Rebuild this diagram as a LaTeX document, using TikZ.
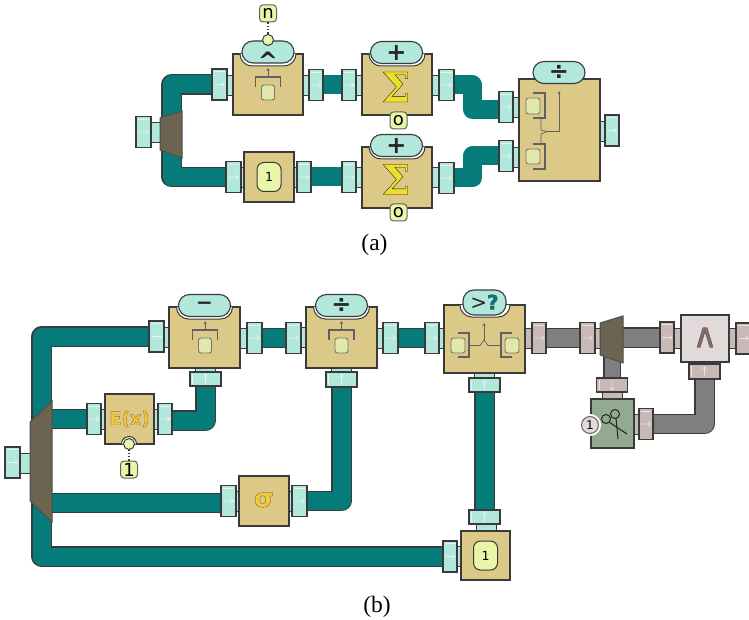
\documentclass[tikz,border=0pt]{standalone}
\usepackage{fontspec}
\setmainfont{DejaVu Sans}
\newfontfamily\capfont{Liberation Serif}
\newfontfamily\boldf[UprightFont=* Bold]{DejaVu Sans}
\newfontfamily\hvy[UprightFont=* Bold,FakeBold=0.8]{DejaVu Sans}
\newfontfamily\hvr[FakeBold=0.7]{DejaVu Sans}
\newfontfamily\serifb[UprightFont=* Bold,FakeBold=0.8]{DejaVu Serif}
\usetikzlibrary{arrows.meta,calc}
\definecolor{teal1}{HTML}{067C7A}
\definecolor{flteal}{HTML}{B2E8DC}
\definecolor{flmauve}{HTML}{C8B8B6}
\definecolor{sand}{HTML}{DCC987}
\definecolor{pipegray}{HTML}{7F7F7F}
\definecolor{lightbox}{HTML}{E2DADA}
\definecolor{greenbox}{HTML}{91AA90}
\definecolor{trap}{HTML}{6B6450}
\definecolor{badge}{HTML}{E9F5A8}
\definecolor{slotc}{HTML}{E2E8AC}
\definecolor{edge}{HTML}{3A3A3A}
\definecolor{sigy}{HTML}{EEE02A}
\definecolor{gold}{HTML}{F2C93A}
\definecolor{mauved}{HTML}{8A6A6A}
\pgfdeclarelayer{bg}
\pgfsetlayers{bg,main}
\tikzset{
  boxn/.style={draw=edge,line width=1.1pt,fill=sand,inner sep=0pt,outer sep=0pt},
  flange/.style={draw=edge,line width=1.2pt,inner sep=0pt,outer sep=0pt},
  neck/.style={draw=edge,line width=.9pt},
  pillb/.style={draw=edge,line width=1.1pt,fill=flteal,rounded corners=11pt,inner sep=0pt,minimum width=52pt,minimum height=22pt},
  badgen/.style={draw=edge!80,line width=1pt,fill=badge,rounded corners=3.5pt,inner sep=0pt,minimum width=17pt,minimum height=17pt,font=\fontsize{18}{18}\selectfont},
  constn/.style={draw=edge,line width=1pt,fill=badge,rounded corners=7pt,inner sep=0pt,minimum width=24pt,minimum height=29pt,font=\fontsize{12.5}{12.5}\selectfont},
  slot/.style={draw=edge!70,line width=.9pt,fill=slotc,rounded corners=2.5pt},
  wire/.style={draw=edge!80,line width=.7pt},
  brk/.style={draw=edge!80,line width=1.3pt},
  outpipe/.style={draw=edge,line width=1.1pt,double distance=18pt,line join=round},
  tealout/.style={outpipe,double=teal1},
  grayout/.style={outpipe,double=pipegray},
  tealplain/.style={draw=teal1,line width=19pt,line join=round},
  trapz/.style={draw=edge!90,line width=1pt,fill=trap},
  tipc/.style={circle,draw=edge,line width=1pt,fill=badge,inner sep=0pt,minimum size=11pt},
  dotl/.style={draw=edge,line width=1.2pt,dash pattern=on 1.6pt off 1.6pt},
  sym/.style={inner sep=0pt,text=black!85},
}
\newcommand\boxn[6]{\pgfmathsetmacro\tw{#4-#2}\pgfmathsetmacro\th{#5-#3}%
  \node[boxn,#6,minimum width=\tw pt,minimum height=\th pt] (#1) at ({(#2+#4)/2},{(#3+#5)/2}) {};}
% horizontal port: name,x1,x2,cy,fill,arrow colour
\newcommand\portH[6]{\pgfmathsetmacro\tw{#3-#2}\pgfmathsetmacro\cx{(#2+#3)/2}%
  \node[flange,fill=#5,minimum width=\tw pt,minimum height=31pt] (#1) at (\cx,#4) {};
  \draw[#6,line width=.8pt] (#2+2,#4-13) -- (#3-2,#4-13);
  \draw[#6,line width=.6pt] (\cx-5,#4) -- (\cx+5,#4) (\cx+2,#4-2.5) -- (\cx+5,#4) -- (\cx+2,#4+2.5);}
% vertical port: name,cx,y1,y2,fill,arrow colour, direction (+1 down, -1 up)
\newcommand\portV[7]{\pgfmathsetmacro\th{#4-#3}\pgfmathsetmacro\cy{(#3+#4)/2}%
  \node[flange,fill=#5,minimum width=31pt,minimum height=\th pt] (#1) at (#2,\cy) {};
  \draw[#6,line width=.8pt] (#2-13,#3+2) -- (#2-13,#4-2);
  \draw[#6,line width=.6pt] (#2,\cy-#7*5) -- (#2,\cy+#7*5) (#2-2.5,\cy+#7*2) -- (#2,\cy+#7*5) -- (#2+2.5,\cy+#7*2);}
\newcommand\neckH[4]{\draw[neck,fill=#4] (#1,#3-10) rectangle (#2,#3+10);}
\newcommand\neckV[4]{\draw[neck,fill=#4] (#3-10,#1) rectangle (#3+10,#2);}
\newcommand\notch[3]{\draw[draw=edge,line width=1pt,fill=white,rounded corners=12pt] (#1-#3,#2) -- (#1-#3,#2+12) -- (#1+#3,#2+12) -- (#1+#3,#2);}
\newcommand\unary[2]{%
  \draw[brk] (#1-12.5,#2+10) -- (#1-12.5,#2) -- (#1+12.5,#2) -- (#1+12.5,#2+10);
  \draw[wire,-{Stealth[length=3pt,width=3pt]}] (#1,#2) -- (#1,#2-9);
  \draw[slot] (#1-6.5,#2+8) rectangle (#1+6.5,#2+23);}
\newcommand\stroked[3]{{\color{#1}\special{pdf:code #2 RG}#3}}
\begin{document}
\begin{tikzpicture}[x=1pt,y=-1pt]
\useasboundingbox (0,0) rectangle (749,620);
%% ===== panel a =====
\neckH{151}{162}{132.5}{flteal}
\portH{ain}{136}{151}{132}{flteal}{flteal!40!white}
% pow
\neckH{226}{233}{85}{flteal}\neckH{303}{310}{85}{flteal}
\boxn{apow}{233}{54}{303}{115}{}
\notch{268}{54}{28}
\node[pillb] (apowp) at (268,52) {};
\node[sym,font=\boldf\fontsize{24}{24}\selectfont] at (268,61) {\char`\^};
\unary{268}{77}
\portH{apowi}{212}{227}{84.5}{flteal}{flteal!40!white}
\portH{apowo}{309}{323}{85}{flteal}{flteal!40!white}
\node[tipc] (apowt) at (268,40) {};
\node[badgen] (an) at (268,13.5) {n};
\draw[dotl] (an) -- (apowt);
% sum 1
\neckH{356}{362}{85}{flteal}\neckH{432}{439}{85}{flteal}
\boxn{asuma}{362}{54}{432}{115}{}
\notch{397}{54}{28}
\node[pillb] (asumap) at (396.5,52.5) {};
\node[sym,font=\boldf\fontsize{24}{24}\selectfont] at (396.5,52.5) {+};
\node[inner sep=0pt,font=\serifb\fontsize{41}{41}\selectfont] (asumas) at (396,87) {\stroked{sigy}{0.1 0.1 0}{Σ}};
\node[badgen] (ao1) at (398.5,120.5) {o};
\portH{asumai}{342}{356}{85}{flteal}{flteal!40!white}
\portH{asumao}{439}{454}{85}{flteal}{flteal!40!white}
% sum 2
\neckH{356}{362}{177}{flteal}\neckH{432}{439}{177}{flteal}
\boxn{asumb}{362}{147}{432}{208}{}
\notch{397}{147}{28}
\node[pillb] (asumbp) at (396.5,145.5) {};
\node[sym,font=\boldf\fontsize{24}{24}\selectfont] at (396.5,145.5) {+};
\node[inner sep=0pt,font=\serifb\fontsize{41}{41}\selectfont] (asumbs) at (396,179.5) {\stroked{sigy}{0.1 0.1 0}{Σ}};
\node[badgen] (ao2) at (398.5,212.5) {o};
\portH{asumbi}{342}{356}{177}{flteal}{flteal!40!white}
\portH{asumbo}{439}{454}{178}{flteal}{flteal!40!white}
% const 1
\neckH{240}{244}{177}{flteal}\neckH{294}{298}{177}{flteal}
\boxn{aone}{244}{152}{294}{202}{}
\node[constn] (aonev) at (269,177) {1};
\portH{aonei}{226}{241}{177}{flteal}{flteal!40!white}
\portH{aoneo}{297}{311}{177}{flteal}{flteal!40!white}
% div
\neckH{513}{519}{107}{flteal}\neckH{513}{519}{157}{flteal}\neckH{600}{605}{131.5}{flteal}
\boxn{adiv}{519}{79}{600}{181}{}
\node[pillb] (adivp) at (559,72.5) {};
\node[sym,font=\boldf\fontsize{24}{24}\selectfont] at (559,72.5) {÷};
\draw[slot] (526,98) rectangle (540,114);
\draw[slot] (526,149) rectangle (540,164);
\draw[brk] (533,93) -- (545,93) -- (545,118) -- (533,118);
\draw[brk] (533,144) -- (545,144) -- (545,169) -- (533,169);
\draw[wire] (541,118) -- (541,130) -- (547,131.5) -- (541,134) -- (541,144);
\draw[wire,-{Stealth[length=3pt,width=3pt]}] (547,131.5) -- (559,131.5) -- (559,91);
\portH{adivi}{499}{513}{107}{flteal}{flteal!40!white}
\portH{adivj}{499}{513}{156}{flteal}{flteal!40!white}
\portH{adivo}{605}{619}{130.5}{flteal}{flteal!40!white}
% merge
\draw[trapz] (160,118) -- (182,111) -- (182,158) -- (160,150) -- cycle;
\coordinate (acl) at (171.5,130);
\begin{pgfonlayer}{bg}
\draw[tealout] (apowi.center) -| (acl) |- (aonei.center);
\draw[tealplain] (apowo.center) -- (asumai.center);
\draw[tealplain] (aoneo.center) -- (asumbi.center);
\coordinate (aja) at (472.5,100);
\coordinate (ajb) at (472.5,160);
\draw[tealplain] (asumao.center) -| (aja) |- ($(adivi.center)+(0,2.5)$);
\draw[tealplain] (asumbo.center) -| (ajb) |- (adivj.center);
\end{pgfonlayer}
\node[font=\capfont\fontsize{23.5}{23.5}\selectfont,inner sep=0pt] (capa) at (374.5,244.5) {(a)};
%% ===== panel b =====
\neckH{20}{31}{463}{flteal}
\portH{bin}{5}{20}{462.5}{flteal}{flteal!40!white}
% minus
\neckH{164}{169}{337}{flteal}\neckH{240}{247}{338}{flteal}\neckV{368}{373}{205.5}{flteal}
\boxn{bmin}{169}{307}{240}{368}{}
\notch{204.5}{307}{28}
\node[pillb] (bminp) at (204.5,305.5) {};
\node[sym,font=\boldf\fontsize{20}{20}\selectfont] at (204.5,306) {−};
\unary{205}{330}
\portH{bmini}{149}{164}{336.5}{flteal}{flteal!40!white}
\portH{bmino}{247}{262}{338}{flteal}{flteal!40!white}
\portV{bminb}{205.5}{372}{386}{flteal}{flteal!40!white}{-1}
% div
\neckH{301}{306}{337}{flteal}\neckH{377}{383}{338}{flteal}\neckV{368}{373}{341.5}{flteal}
\boxn{bdiv}{306}{307}{377}{368}{}
\notch{341.5}{307}{28}
\node[pillb] (bdivp) at (341.5,305.5) {};
\node[sym,font=\boldf\fontsize{24}{24}\selectfont] at (341.5,305.5) {÷};
\unary{341.5}{330}
\portH{bdivi}{286}{301}{338}{flteal}{flteal!40!white}
\portH{bdivo}{383}{398}{338}{flteal}{flteal!40!white}
\portV{bdivb}{341.5}{372}{387}{flteal}{flteal!40!white}{-1}
% compare
\neckH{439}{444}{338}{flteal}\neckH{525}{533}{338.5}{flmauve}\neckV{373}{379}{484.5}{flteal}
\boxn{bcmp}{444}{305}{525}{373}{}
\notch{485}{305}{25}
\node[pillb,minimum width=43pt,minimum height=25pt] (bcmpp) at (484.5,302.5) {};
\node[sym,font=\fontsize{20}{20}\selectfont] at (484.5,302) {>\stroked{teal1}{0.1 0.1 0.1}{\hvy ?}};
\draw[slot] (451,338) rectangle (465,353);
\draw[slot] (505,338) rectangle (519,353);
\draw[brk] (458,333) -- (469,333) -- (469,357) -- (458,357);
\draw[brk] (512,333) -- (501,333) -- (501,357) -- (512,357);
\draw[wire] (469,345.5) -- (480,345.5) -- (484,340) -- (488,345.5) -- (501,345.5);
\draw[wire,-{Stealth[length=3pt,width=3pt]}] (484,340) -- (484,323);
\portH{bcmpi}{425}{439}{338}{flteal}{flteal!40!white}
\portH{bcmpo}{532}{546}{338}{flmauve}{flmauve!40!white}
\portV{bcmpb}{484.5}{378}{392}{flteal}{flteal!40!white}{-1}
% E(x)
\neckH{101}{105}{419}{flteal}\neckH{154}{158}{419}{flteal}
\boxn{bex}{105}{394}{154}{444}{}
\draw[draw=edge,line width=1pt,fill=white,rounded corners=7.5pt] (121.5,444) -- (121.5,436.5) -- (136.5,436.5) -- (136.5,444);
\node[inner sep=0pt,font=\hvy\fontsize{18}{18}\selectfont] (bexl) at (129.5,419) {\stroked{gold}{0.3 0.25 0.1}{E(x)}};
\node[tipc] (bext) at (129,444) {};
\node[badgen] (bex1) at (129,469.5) {1};
\draw[dotl] (bex1) -- (bext);
\portH{bexi}{87}{101}{419}{flteal}{flteal!40!white}
\portH{bexo}{158}{172}{419}{flteal}{flteal!40!white}
% sigma
\neckH{236}{239}{501}{flteal}\neckH{289}{292}{501}{flteal}
\boxn{bsig}{239}{476}{289}{526}{}
\node[inner sep=0pt,font=\hvy\fontsize{26}{26}\selectfont] (bsigl) at (264,500) {\stroked{gold}{0.3 0.25 0.1}{σ}};
\portH{bsigi}{221}{236}{501}{flteal}{flteal!40!white}
\portH{bsigo}{292}{307}{501}{flteal}{flteal!40!white}
% const 1
\neckH{457}{461}{556}{flteal}\neckV{524}{531}{486}{flteal}
\boxn{bone}{461}{531}{510}{580}{}
\node[constn] (bonev) at (485.5,555.5) {1};
\portH{bonei}{443}{457}{556.5}{flteal}{flteal!40!white}
\portV{bonet}{484.5}{510}{524}{flteal}{flteal!40!white}{-1}
% split (gray)
\neckH{595}{601}{338.5}{flmauve}
\portH{bspi}{580}{595}{338}{flmauve}{flmauve!40!white}
\draw[trapz] (600,323) -- (623,316) -- (623,363) -- (600,355) -- cycle;
\coordinate (bspr) at (615,337.5);
\coordinate (bspd) at (612,355);
% Lambda
\neckH{674}{681}{338}{flmauve}\neckH{729}{736}{338.5}{flmauve}\neckV{362}{365}{704.5}{flmauve}
\boxn{band}{681}{315}{729}{362}{fill=lightbox}
\node[inner sep=0pt,font=\hvr\fontsize{34}{34}\selectfont] (bandl) at (705,337.5) {\stroked{mauved}{0.2 0.2 0.2}{∧}};
\portH{bandi}{660}{674}{337.5}{flmauve}{flmauve!40!white}
\portH{bando}{736}{751}{338.5}{flmauve}{flmauve!40!white}
\portV{bandb}{704.5}{364}{379}{flmauve}{flmauve!40!white}{-1}
% scissors
\neckV{392}{399}{612}{flmauve}\neckH{634}{639}{424}{flmauve}
\boxn{bcut}{591}{399}{634}{448}{fill=greenbox}
\begin{scope}[line width=1pt,draw=black!85]
\draw (606,419) circle (4.5);
\draw (615,414) circle (4.5);
\draw (609,422) -- (627,434);
\draw (616,418) -- (618,439);
\end{scope}
\draw[draw=white,line width=1pt,fill=white] (590,425) circle (10.5);
\node[circle,draw=edge!80,line width=1pt,fill=lightbox,inner sep=0pt,minimum size=17pt,font=\fontsize{12}{12}\selectfont] (bcut1) at (590,425) {1};
\portV{bcutt}{612}{378}{392}{flmauve}{flmauve!40!white}{1}
\portH{bcuto}{639}{653}{424}{flmauve}{flmauve!40!white}
% big merge
\draw[trapz] (30,422) -- (52,401) -- (52,522) -- (30,501) -- cycle;
\coordinate (bcl) at (41.5,450);
\coordinate (bee) at (45,419);
\coordinate (bse) at (45,503);
\begin{pgfonlayer}{bg}
\draw[tealout] (bmini.center) -| (bcl) |- (bonei.center);
\draw[tealout] (bee) -- (bexi.center);
\draw[tealout] (bse) -- ($(bsigi.center)+(0,2)$);
\draw[tealout] ($(bexo.center)+(0,1.5)$) -| (bminb.center);
\draw[tealout] (bsigo.center) -| (bdivb.center);
\draw[tealout] (bmino.center) -- (bdivi.center);
\draw[tealout] (bdivo.center) -- (bcmpi.center);
\draw[tealout] (bcmpb.center) -- (bonet.center);
\draw[grayout] (bcmpo.center) -- (bspi.center);
\draw[grayout] (bspr) -- (bandi.center);
\draw[grayout,double distance=15pt] (bspd) -- (bcutt.center);
\draw[grayout] (bcuto.center) -| (bandb.center);
\end{pgfonlayer}
\node[font=\capfont\fontsize{23.5}{23.5}\selectfont,inner sep=0pt] (capb) at (377,607) {(b)};
\end{tikzpicture}
\end{document}
